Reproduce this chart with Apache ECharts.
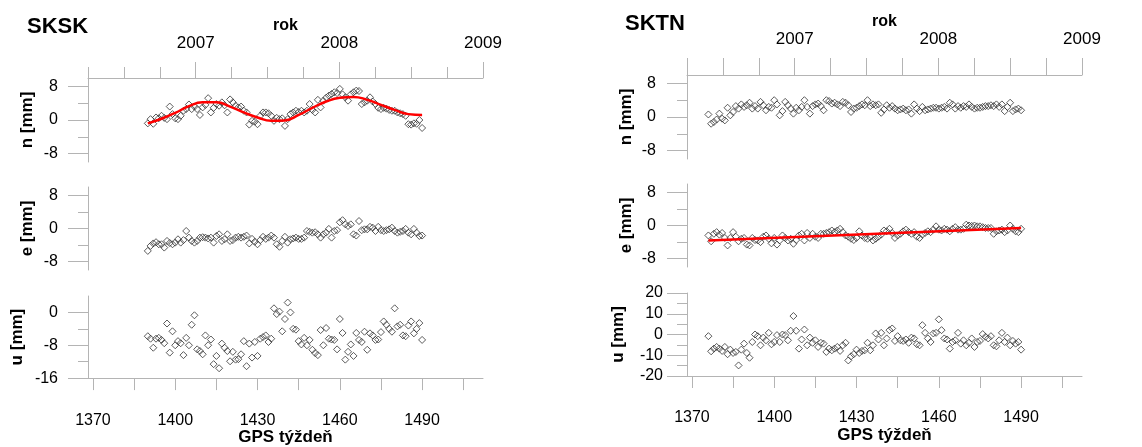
<!DOCTYPE html>
<html><head><meta charset="utf-8">
<script src="https://cdn.jsdelivr.net/npm/echarts@6.0.0/dist/echarts.min.js"></script>
<style>html,body{margin:0;padding:0;background:#fff;}#c{width:1142px;height:447px;}</style>
</head><body><div id="c"></div>
<script>
// ---------- DATA ----------
const weeksL = [1390,1391,1392,1393,1394,1395,1396,1397,1398,1399,
1400,1401,1402,1403,1404,1405,1406,1407,1408,1409,
1410,1411,1412,1413,1414,1415,1416,1417,1418,1419,
1420,1421,1422,1423,1424,1425,1426,1427,1428,1429,
1430,1431,1432,1433,1434,1435,1436,1437,1438,1439,
1440,1441,1442,1443,1444,1445,1446,1447,1448,1449,
1450,1451,1452,1453,1454,1455,1456,1457,1458,1459,
1460,1461,1462,1463,1464,1465,1466,1467,1468,1469,
1470,1471,1472,1473,1474,1475,1476,1477,1478,1479,
1480,1481,1482,1483,1484,1485,1486,1487,1488,1489,1490];
const nL = [-0.8,0.2,-0.9,0.6,0.4,1.0,0.5,0.2,3.2,1.4,
0.4,0.2,1.0,2.2,2.6,3.7,2.6,3.2,2.6,1.2,
3.0,3.6,5.2,1.8,2.9,3.8,3.4,4.2,3.5,1.8,
4.9,4.2,3.4,3.0,3.2,2.2,1.8,-1.1,-0.2,-0.4,
-1.0,1.0,1.8,1.8,1.6,1.0,-0.2,0.5,0.2,0.4,
-1.4,0.2,1.4,1.8,2.2,1.9,2.2,1.8,2.2,3.8,
2.4,1.8,4.8,3.0,4.6,5.3,5.8,6.2,6.6,6.4,
7.4,6.1,5.4,4.6,6.1,6.6,7.0,6.9,3.8,4.2,
4.6,5.4,4.4,3.8,2.9,2.6,2.9,2.7,2.4,2.2,
2.2,1.8,1.6,1.4,1.0,-1.0,-1.1,-0.8,-0.9,0.0,-1.9];
const eL = [-5.4,-4.2,-3.6,-3.3,-3.8,-3.8,-4.6,-3.0,-3.5,-3.8,
-3.4,-2.6,-3.4,-2.8,-0.6,-2.2,-3.0,-3.4,-3.0,-2.2,
-2.1,-2.2,-2.4,-2.2,-3.4,-1.8,-1.4,-3.0,-2.6,-1.4,
-3.0,-2.8,-2.2,-2.0,-2.2,-2.0,-1.7,-3.6,-2.5,-3.2,
-3.8,-2.8,-2.0,-2.5,-2.2,-1.7,-2.2,-3.8,-4.4,-3.0,
-2.0,-3.4,-2.6,-2.4,-2.2,-2.5,-2.5,-2.2,-0.6,-0.8,
-1.0,-0.9,-1.4,-2.2,-1.4,-1.0,-0.1,-2.2,-0.6,-0.4,
1.5,2.0,1.0,0.6,1.0,-1.4,-1.7,1.8,-0.4,-0.2,
-0.2,0.4,0.2,-0.6,0.4,-0.4,-0.6,-0.4,-0.2,0.2,
-0.6,-1.0,-0.8,-0.6,-0.1,-1.0,-1.4,-0.1,-1.0,-1.8,-1.7];
const uL = [-5.8,-6.4,-8.6,-6.4,-6.2,-6.7,-7.5,-2.7,-9.8,-4.6,
-8,-7,-7.5,-10.4,-6.2,-8,-3,-0.7,-9,-9.4,
-10.2,-5.6,-8,-6.6,-12.6,-10.6,-13.6,-7.6,-8.6,-9.4,
-11.9,-9.6,-11.5,-11.4,-10.2,-7,-13.1,-7.6,-11,-7.2,
-10.6,-6.4,-6.0,-5.6,-7.2,-6.4,1,-0.4,0.2,-4.6,
-1.6,2.4,0,-4,-4.2,-7,-7.8,-6.2,-8,-6.7,
-9.1,-9.9,-10.4,-4.3,-8,-3.8,-6.4,-6.6,-6.7,-9,
-1.6,-5,-11.5,-9.6,-7.8,-10.6,-5,-6.7,-7.2,-4.7,
-9.1,-5.1,-5.6,-6.7,-6.6,-4.8,-2.2,-3,-4,-4.7,
1,-3.4,-3,-5.6,-5.8,-3.2,-2.2,-5.1,-4,-2.6,-6.7];
const fitWeeksL = [1390,1395,1400,1405,1410,1415,1420,1425,1430,1435,1440,1445,1450,1455,1460,1465,1470,1475,1480,1485,1490];
const fitNL = [-0.8,0.3,1.7,3.3,4.2,4.2,3.2,1.8,0.6,-0.2,-0.1,1.2,2.9,4.4,5.3,5.5,4.8,3.6,2.4,1.4,1.2];

const weeksR = [1376,1377,1378,1379,
1380,1381,1382,1383,1384,1385,1386,1387,1388,1389,
1390,1391,1392,1393,1394,1395,1396,1397,1398,1399,
1400,1401,1402,1403,1404,1405,1406,1407,1408,1409,
1410,1411,1412,1413,1414,1415,1416,1417,1418,1419,
1420,1421,1422,1423,1424,1425,1426,1427,1428,1429,
1430,1431,1432,1433,1434,1435,1436,1437,1438,1439,
1440,1441,1442,1443,1444,1445,1446,1447,1448,1449,
1450,1451,1452,1453,1454,1455,1456,1457,1458,1459,
1460,1461,1462,1463,1464,1465,1466,1467,1468,1469,
1470,1471,1472,1473,1474,1475,1476,1477,1478,1479,
1480,1481,1482,1483,1484,1485,1486,1487,1488,1489,1490];
const nR = [0.6,-1.6,-1.2,-0.6,0.8,-0.4,-0.8,2.2,0.4,1.2,
2.6,2,3,2.4,2.8,3.4,2,2.6,2,3.6,
2.8,1.6,2.4,2.2,4,3,0.4,1.4,3.6,2.8,
2,0.8,2.2,1.6,2.4,4,2.4,0.8,2.6,3,
3.2,2.6,1.6,4,3.8,3.2,3.4,3,2.6,3.6,
3.4,2.8,1.2,2,2.2,2.6,3,2.8,4,2.6,
3,2.8,3,1,1.8,2.8,2.2,2.6,2,1.6,
1.8,2,1.6,1.8,0.8,3,2,1.4,2.4,1.6,
1.8,2,2.2,2.2,2,2.2,2.4,2,3.4,3,
2,2.6,2.2,2.6,2.4,3,2.4,2,2.2,2.2,
2.4,2.6,2.6,2.8,2.6,3,2.4,3,1.4,2.4,
3.4,1.4,1.8,2,1.6];
const eR = [-2.4,-3.8,-2,-1.6,-2.2,-1.8,-3,-4.8,-3,-1.6,
-2.7,-3.8,-3.2,-3,-4.6,-4.8,-3,-3.5,-3.6,-4,
-2.7,-2.4,-3.2,-4.3,-3,-4.6,-3.6,-2.4,-3,-3.6,
-3.2,-4.4,-3.5,-2.4,-2,-3.6,-1.8,-3,-2,-2.7,
-3,-2,-2,-1.8,-1.6,-1.2,-1.6,-1.2,-0.8,-1.6,
-2.4,-2.7,-3.2,-3.5,-3,-1.4,-2.4,-3,-3.2,-2.8,
-3.6,-3.2,-2.7,-2.2,-1.2,-1.4,-0.8,-1.8,-3,-2.4,
-2,-1.4,-1,-1.6,-2,-1.6,-2.7,-3,-2.2,-1.8,
-1.4,-1.6,-1,-0.2,-1,-1.2,-0.8,-1,-1.4,-0.8,
-0.4,-1,-1,-0.8,0.2,0,-0.1,0,-0.2,-0.2,
-0.4,-0.6,-0.6,-0.6,-2,-1.4,-1.2,-1,-1.6,-1.2,
0,-0.8,-1.4,-1.6,-0.8];
const uR = [-0.8,-8.1,-6.8,-6,-6.8,-7.9,-6,-9.5,-7.3,-8.9,
-8.4,-14.9,-7.3,-4.4,-8.9,-11.2,-3.6,0,-0.8,-5.2,
-1.5,-2.8,0.8,-4.7,-3.6,-0.3,-3.6,0,-0.3,-2.8,
1.8,8.9,1.8,-6.8,-2.4,2.4,-5.2,-1.5,-4,-2.8,
-6,-4,-4.4,-8.4,-6.8,-7.6,-6.8,-6,-7.9,-5.2,
-4,-12.5,-10.5,-9.5,-7.3,-8.9,-7.9,-7.6,-4,-7.6,
-5.2,0.5,-2.4,0.8,-5.2,-1.9,2.1,2.9,-3.1,-0.8,
-2.8,-3.1,-2.4,-4,-1.5,-1.9,-4.7,-5.2,4.5,0.8,
-1.9,-3.6,0.5,0.8,7.3,2.1,-1.9,-2.4,-6.8,-3.6,
-2.8,0.8,-4.4,-2.8,-5.2,-4,-1.9,-6,-3.6,-3.1,
0.2,-1.1,-1.9,-0.8,-5.2,-5.7,-2.8,0.8,-3.6,-1.5,
-5.2,-3.1,-4.4,-3.6,-7.3];
const trendWeeksR = [1376,1490];
const trendER = [-3.6,-0.6];

const weekTicks = [1370,1385,1400,1415,1430,1445,1460,1475,1490,1505];
const weekLabels = [1370,1400,1430,1460,1490];
const quarterTicks = [2006.25,2006.5,2006.75,2007,2007.25,2007.5,2007.75,2008,2008.25,2008.5,2008.75,2009];
const yearTicks = [2007,2008,2009];
const stationNames = ['SKSK','SKTN'];
const compNames = ['n [mm]','e [mm]','u [mm]'];
const xName = 'GPS týždeň';
const yearName = 'rok';

// ---------- CHART ----------
const FONT = '"Liberation Sans", Arial, sans-serif';
const GRAY = '#b4b4b4';
const TXT = '#000';
const WMIN = 1368.2, WMAX = 1512.2;

const grids = [
  {left:88, top:78, width:395, height:84},
  {left:88, top:187, width:395, height:83},
  {left:88, top:296, width:395, height:83},
  {left:687, top:75, width:395, height:84},
  {left:687, top:184, width:395, height:83},
  {left:687, top:293, width:395, height:83}
];

function weekAxis(g, show) {
  return {
    type:'value', gridIndex:g, min:WMIN, max:WMAX, show:show, position:'bottom',
    axisLine:{show:true, onZero:false, lineStyle:{color:GRAY, width:1}},
    axisTick:{show:true, customValues:weekTicks, length:12, lineStyle:{color:GRAY, width:1}},
    axisLabel:{show:true, customValues:weekLabels, margin:34, fontSize:16, color:TXT, fontFamily:FONT, formatter:v=>String(v)},
    splitLine:{show:false},
    name: show ? xName : '', nameLocation:'middle', nameGap:50,
    nameTextStyle:{fontSize:17, fontWeight:'bold', color:TXT, fontFamily:FONT}
  };
}
function yearAxis(g, ticks, len, showLine, labels, margin, gap) {
  return {
    type:'value', gridIndex:g, min:2006.25, max:2009, position:'top',
    axisLine:{show:showLine, onZero:false, lineStyle:{color:GRAY, width:1}},
    axisTick:{show:true, customValues:ticks, length:len, lineStyle:{color:GRAY, width:1}},
    axisLabel:{show:!!labels, customValues:labels || [], margin:margin, fontSize:17, color:TXT, fontFamily:FONT, formatter:v=>String(Math.round(v))},
    splitLine:{show:false},
    name: labels ? yearName : '', nameLocation:'middle', nameGap:gap,
    nameTextStyle:{fontSize:16, fontWeight:'bold', color:TXT, fontFamily:FONT}
  };
}
function yMain(g, min, max, ticks, name, gap, margin) {
  return {
    type:'value', gridIndex:g, min:min, max:max, position:'left',
    axisLine:{show:true, onZero:false, lineStyle:{color:GRAY, width:1}},
    axisTick:{show:true, customValues:ticks, length:20, lineStyle:{color:GRAY, width:1}},
    axisLabel:{show:true, customValues:ticks, margin:margin, fontSize:16, color:TXT, fontFamily:FONT, formatter:v=>String(v)},
    splitLine:{show:false},
    name:name, nameLocation:'middle', nameGap:gap, nameRotate:90,
    nameTextStyle:{fontSize:17, fontWeight:'bold', color:TXT, fontFamily:FONT}
  };
}
function yMinor(g, min, max, ticks) {
  return {
    type:'value', gridIndex:g, min:min, max:max, position:'left',
    axisLine:{show:false, onZero:false}, axisLabel:{show:false}, splitLine:{show:false},
    axisTick:{show:true, customValues:ticks, length:10, lineStyle:{color:GRAY, width:1}}
  };
}
function pairs(xs, ys) { return xs.map((x,i)=>[x, ys[i]]); }
function scatter(ix, xs, ys) {
  return {
    type:'scatter', xAxisIndex:ix, yAxisIndex:ix, data:pairs(xs, ys),
    symbol:'diamond', symbolSize:7, z:2, silent:true,
    itemStyle:{color:'rgba(255,255,255,0)', borderColor:'#333', borderWidth:1}
  };
}
function redLine(ix, xs, ys, smooth) {
  return {
    type:'line', xAxisIndex:ix, yAxisIndex:ix, data:pairs(xs, ys), smooth:smooth,
    showSymbol:false, symbol:'none', z:3, silent:true,
    lineStyle:{color:'#ff0000', width:2.5}
  };
}

const option = {
  animation:false,
  backgroundColor:'#fff',
  textStyle:{fontFamily:FONT},
  title:[
    {text:stationNames[0], left:27, top:16, padding:0, textStyle:{fontSize:22, fontWeight:'bold', color:TXT, fontFamily:FONT}},
    {text:stationNames[1], left:625, top:13, padding:0, textStyle:{fontSize:22, fontWeight:'bold', color:TXT, fontFamily:FONT}}
  ],
  grid: grids,
  xAxis:[
    weekAxis(0,false), weekAxis(1,false), weekAxis(2,true),
    weekAxis(3,false), weekAxis(4,false), weekAxis(5,true),
    yearAxis(0, quarterTicks, 11, true, null, 0, 44),
    yearAxis(0, yearTicks, 16, false, yearTicks, 26, 44),
    yearAxis(3, quarterTicks, 17, true, yearTicks, 27, 45)
  ],
  yAxis:[
    yMain(0,-10,10,[-8,0,8],compNames[0],52,30),
    yMain(1,-10,10,[-8,0,8],compNames[1],52,30),
    yMain(2,-16,4,[-16,-8,0],compNames[2],62,30),
    yMain(3,-10,10,[-8,0,8],compNames[0],52,31),
    yMain(4,-10,10,[-8,0,8],compNames[1],52,31),
    yMain(5,-20,20,[-20,-10,0,10,20],compNames[2],60,24),
    yMinor(0,-10,10,[-4,4]),
    yMinor(1,-10,10,[-4,4]),
    yMinor(2,-16,4,[-12,-4]),
    yMinor(3,-10,10,[-4,4]),
    yMinor(4,-10,10,[-4,4]),
    yMinor(5,-20,20,[-15,-5,5,15])
  ],
  series:[
    scatter(0, weeksL, nL),
    redLine(0, fitWeeksL, fitNL, true),
    scatter(1, weeksL, eL),
    scatter(2, weeksL, uL),
    scatter(3, weeksR, nR),
    scatter(4, weeksR, eR),
    redLine(4, trendWeeksR, trendER, false),
    scatter(5, weeksR, uR)
  ]
};
const chart = echarts.init(document.getElementById('c'), null, {renderer:'canvas'});
chart.setOption(option);
</script>
</body></html>
